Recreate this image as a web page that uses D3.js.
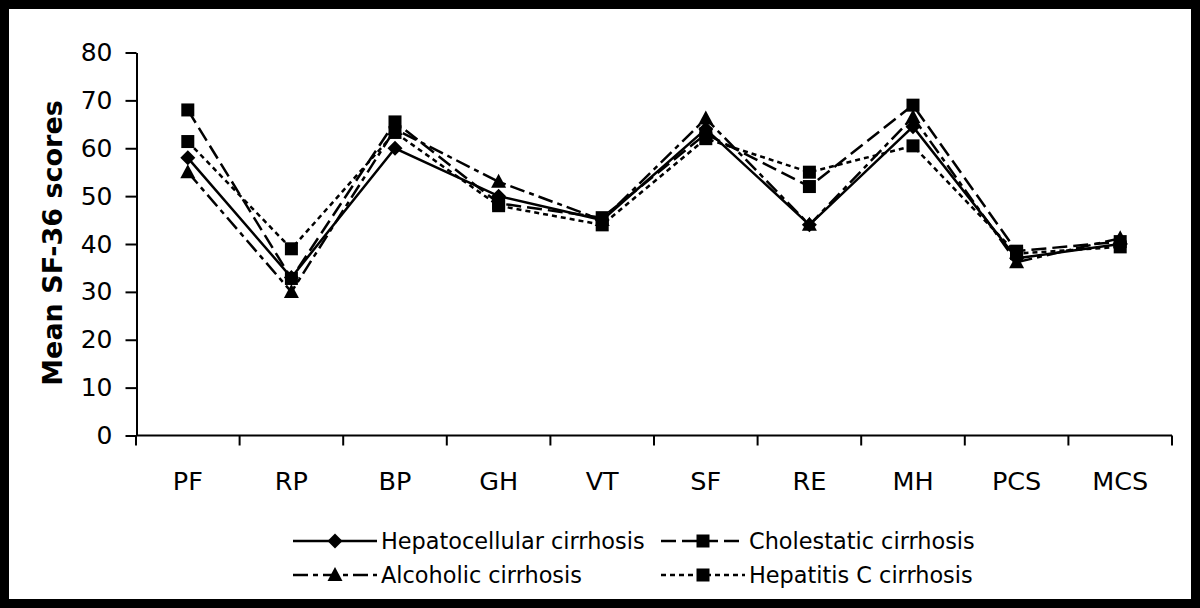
<!DOCTYPE html>
<html><head><meta charset="utf-8">
<script src="https://cdn.jsdelivr.net/npm/d3@7"></script>
<style>html,body{margin:0;padding:0;background:#000}svg{display:block}</style>
</head><body>
<script>
const categories = ["PF","RP","BP","GH","VT","SF","RE","MH","PCS","MCS"];
const hepatocellular = [58, 33, 60, 50, 45, 64, 44, 64.5, 37, 40];
const cholestatic    = [68, 32.8, 65.5, 48.5, 45.5, 63, 52, 69, 38.5, 40.5];
const alcoholic      = [55, 30, 64, 53, 45, 66.2, 44, 66.5, 36.2, 41.2];
const hepatitisC     = [61.4, 39, 63.3, 48, 44, 62, 55, 60.5, 38, 39.4];
const yTicks = [0,10,20,30,40,50,60,70,80];
const seriesNames = ["Hepatocellular cirrhosis","Cholestatic cirrhosis","Alcoholic cirrhosis","Hepatitis C cirrhosis"];

const series = [
  {name: seriesNames[0], values: hepatocellular, dash: null, marker: "diamond"},
  {name: seriesNames[1], values: cholestatic, dash: "15,6", marker: "square"},
  {name: seriesNames[2], values: alcoholic, dash: "15,5,5,5", marker: "triangle"},
  {name: seriesNames[3], values: hepatitisC, dash: "5,4", marker: "square"}
];

const W = 1200, H = 608;
const svg = d3.select("body").append("svg").attr("width", W).attr("height", H);
svg.append("rect").attr("width", W).attr("height", H).attr("fill", "#000");
svg.append("rect").attr("x", 9).attr("y", 9).attr("width", W-18).attr("height", H-18).attr("fill", "#fff");

const font = "'DejaVu Sans', Verdana, sans-serif";
const x = d3.scaleBand().domain(categories).range([136, 1172]).padding(0);
const y = d3.scaleLinear().domain([0, 80]).range([435.5, 52.5]);

// Y axis
const yAxis = d3.axisLeft(y).tickValues(yTicks).tickSize(11).tickPadding(13).tickSizeOuter(0);
const gy = svg.append("g").attr("transform", "translate(136.5,0)").call(yAxis);
gy.select(".domain").attr("stroke", "#000").attr("stroke-width", 2);
gy.selectAll(".tick line").attr("stroke", "#000").attr("stroke-width", 2);
gy.selectAll(".tick text").attr("font-family", font).attr("font-size", 25).attr("fill", "#000");

// X axis
const gx = svg.append("g").attr("transform", "translate(0,435.5)");
gx.append("line").attr("x1", x.range()[0]).attr("x2", x.range()[1]).attr("stroke", "#000").attr("stroke-width", 2);
const bounds = categories.map(c => x(c)).concat([x.range()[1]]);
gx.selectAll("line.tk").data(bounds).enter().append("line").attr("class","tk")
  .attr("x1", d => d).attr("x2", d => d).attr("y1", 0).attr("y2", 10)
  .attr("stroke", "#000").attr("stroke-width", 2);
gx.selectAll("text").data(categories).enter().append("text")
  .attr("x", d => x(d) + x.bandwidth()/2).attr("y", 54)
  .attr("text-anchor", "middle").attr("font-family", font).attr("font-size", 25.5)
  .attr("fill", "#000").text(d => d);

// Y title
svg.append("text").attr("transform", "translate(62,243) rotate(-90)")
  .attr("text-anchor", "middle").attr("font-family", font).attr("font-weight", "bold")
  .attr("font-size", 27).attr("fill", "#000").text("Mean SF-36 scores");

const cx = d => x(d) + x.bandwidth()/2;
function drawMarker(g, type, px, py) {
  if (type === "diamond") {
    g.append("path").attr("d", `M${px},${py-7.5}L${px+7.5},${py}L${px},${py+7.5}L${px-7.5},${py}Z`).attr("fill", "#000");
  } else if (type === "square") {
    g.append("rect").attr("x", px-6.5).attr("y", py-6.5).attr("width", 13).attr("height", 13).attr("fill", "#000");
  } else {
    g.append("path").attr("d", `M${px},${py-8}L${px+7.5},${py+6}L${px-7.5},${py+6}Z`).attr("fill", "#000");
  }
}

const line = d3.line().x((d,i) => cx(categories[i])).y(d => y(d));
const plot = svg.append("g");
series.forEach(s => {
  plot.append("path").attr("d", line(s.values)).attr("fill", "none").attr("stroke", "#000")
    .attr("stroke-width", 2.5).attr("stroke-dasharray", s.dash);
});
series.forEach(s => {
  s.values.forEach((v,i) => drawMarker(plot, s.marker, cx(categories[i]), y(v)));
});

// Legend
const legendPos = [[293, 541],[661, 541],[293, 575],[661, 575]];
series.forEach((s, i) => {
  const [lx, ly] = legendPos[i];
  const g = svg.append("g");
  g.append("line").attr("x1", lx).attr("x2", lx+84).attr("y1", ly).attr("y2", ly)
    .attr("stroke", "#000").attr("stroke-width", 2.5).attr("stroke-dasharray", s.dash);
  drawMarker(g, s.marker, lx+42, ly);
  g.append("text").attr("x", lx+88).attr("y", ly+8).attr("font-family", font).attr("font-size", 22.4)
    .attr("fill", "#000").text(s.name);
});
</script>
</body></html>
